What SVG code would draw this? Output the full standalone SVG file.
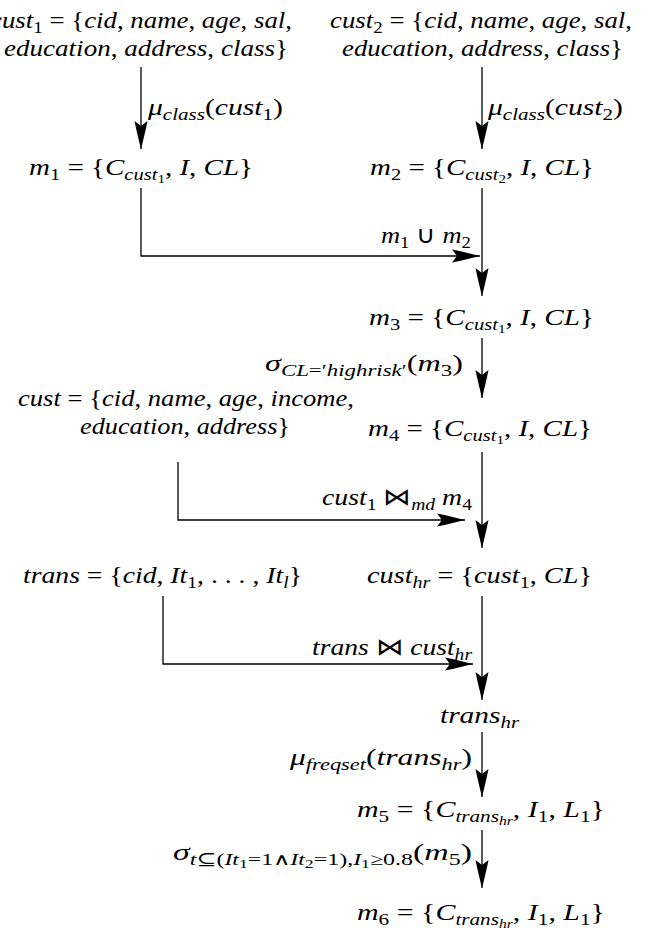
<svg xmlns="http://www.w3.org/2000/svg" width="647" height="934" viewBox="0 0 647 934">
<style>
text { font-family: "Liberation Serif", "DejaVu Serif", serif; font-style: italic; font-size: 24px; fill: #000; }
.u { font-style: normal; }
.s { font-size: 17px; baseline-shift: -4.5px; }
.ss { font-size: 12.5px; baseline-shift: -3px; }
.o { font-family: "DejaVu Sans", sans-serif; font-style: normal; font-weight: 200; }
.c { fill: none; stroke: #000; stroke-width: 1.3; marker-end: url(#ah); }
</style>
<defs>
<marker id="ah" markerUnits="userSpaceOnUse" orient="auto" viewBox="-30 -8 32 16" markerWidth="32" markerHeight="16" refX="0" refY="0">
<path d="M0,0 C-8,-2 -18,-4.5 -28,-6.5 L-23,0 L-28,6.5 C-18,4.5 -8,2 0,0 Z" fill="#000"/>
</marker>
</defs>
<rect width="647" height="934" fill="#fff"/>

<g id="connectors">
<path class="c" d="M141,67 V149"/>
<path class="c" d="M482,67 V149"/>
<path class="c" d="M141,188 V256 H480"/>
<path class="c" d="M482,188 V296"/>
<path class="c" d="M482,338 V398"/>
<path class="c" d="M178,462 V520 H465"/>
<path class="c" d="M482,452 V548"/>
<path class="c" d="M163,596 V664 H473"/>
<path class="c" d="M482,596 V700"/>
<path class="c" d="M482,732 V797"/>
<path class="c" d="M482,830 V888"/>
</g>

<g id="label-mu-class-1"><text x="148" y="115" textLength="135" lengthAdjust="spacingAndGlyphs">μ<tspan class="s">class</tspan><tspan class="u">(</tspan>cust<tspan class="s u">1</tspan><tspan class="u">)</tspan></text></g>
<g id="label-mu-class-2"><text x="488" y="115" textLength="135" lengthAdjust="spacingAndGlyphs">μ<tspan class="s">class</tspan><tspan class="u">(</tspan>cust<tspan class="s u">2</tspan><tspan class="u">)</tspan></text></g>
<g id="label-union"><text x="381" y="243" textLength="90" lengthAdjust="spacingAndGlyphs">m<tspan class="s u">1</tspan><tspan class="u"> </tspan><tspan class="o">∪</tspan><tspan class="u"> </tspan>m<tspan class="s u">2</tspan></text></g>
<g id="label-sigma-cl"><text x="265" y="371" textLength="198" lengthAdjust="spacingAndGlyphs">σ<tspan class="s">CL<tspan class="u">=′</tspan>highrisk<tspan class="u">′</tspan></tspan><tspan class="u">(</tspan>m<tspan class="s u">3</tspan><tspan class="u">)</tspan></text></g>
<g id="label-join-md"><text x="322" y="505" textLength="150" lengthAdjust="spacingAndGlyphs">cust<tspan class="s u">1</tspan><tspan class="u"> </tspan><tspan class="o">⋈</tspan><tspan class="s">md</tspan><tspan class="u"> </tspan>m<tspan class="s u">4</tspan></text></g>
<g id="label-join-trans"><text x="312" y="655" textLength="160" lengthAdjust="spacingAndGlyphs">trans<tspan class="u"> </tspan><tspan class="o">⋈</tspan><tspan class="u"> </tspan>cust<tspan class="s">hr</tspan></text></g>
<g id="label-mu-freqset"><text x="290" y="765" textLength="182" lengthAdjust="spacingAndGlyphs">μ<tspan class="s">freqset</tspan><tspan class="u">(</tspan>trans<tspan class="s">hr</tspan><tspan class="u">)</tspan></text></g>
<g id="label-sigma-t"><text x="173" y="860" textLength="299" lengthAdjust="spacingAndGlyphs">σ<tspan class="s">t<tspan class="u">⊆(</tspan>It<tspan class="ss u">1</tspan><tspan class="u">=1</tspan><tspan class="o">∧</tspan>It<tspan class="ss u">2</tspan><tspan class="u">=1),</tspan>I<tspan class="ss u">1</tspan><tspan class="u">≥0.8</tspan></tspan><tspan class="u">(</tspan>m<tspan class="s u">5</tspan><tspan class="u">)</tspan></text></g>

<g id="cust1">
<text x="-10" y="28" textLength="302" lengthAdjust="spacingAndGlyphs">cust<tspan class="s u">1</tspan><tspan class="u"> = {</tspan>cid<tspan class="u">, </tspan>name<tspan class="u">, </tspan>age<tspan class="u">, </tspan>sal<tspan class="u">,</tspan></text>
<text x="4" y="56" textLength="284" lengthAdjust="spacingAndGlyphs">education<tspan class="u">, </tspan>address<tspan class="u">, </tspan>class<tspan class="u">}</tspan></text>
</g>
<g id="cust2">
<text x="330" y="28" textLength="302" lengthAdjust="spacingAndGlyphs">cust<tspan class="s u">2</tspan><tspan class="u"> = {</tspan>cid<tspan class="u">, </tspan>name<tspan class="u">, </tspan>age<tspan class="u">, </tspan>sal<tspan class="u">,</tspan></text>
<text x="342" y="56" textLength="281" lengthAdjust="spacingAndGlyphs">education<tspan class="u">, </tspan>address<tspan class="u">, </tspan>class<tspan class="u">}</tspan></text>
</g>
<g id="m1"><text x="29" y="175" textLength="224" lengthAdjust="spacingAndGlyphs">m<tspan class="s u">1</tspan><tspan class="u"> = {</tspan>C<tspan class="s">cust<tspan class="ss u">1</tspan></tspan><tspan class="u">, </tspan>I<tspan class="u">, </tspan>CL<tspan class="u">}</tspan></text></g>
<g id="m2"><text x="370" y="175" textLength="224" lengthAdjust="spacingAndGlyphs">m<tspan class="s u">2</tspan><tspan class="u"> = {</tspan>C<tspan class="s">cust<tspan class="ss u">2</tspan></tspan><tspan class="u">, </tspan>I<tspan class="u">, </tspan>CL<tspan class="u">}</tspan></text></g>
<g id="m3"><text x="369" y="325" textLength="225" lengthAdjust="spacingAndGlyphs">m<tspan class="s u">3</tspan><tspan class="u"> = {</tspan>C<tspan class="s">cust<tspan class="ss u">1</tspan></tspan><tspan class="u">, </tspan>I<tspan class="u">, </tspan>CL<tspan class="u">}</tspan></text></g>
<g id="cust">
<text x="18" y="406" textLength="336" lengthAdjust="spacingAndGlyphs">cust<tspan class="u"> = {</tspan>cid<tspan class="u">, </tspan>name<tspan class="u">, </tspan>age<tspan class="u">, </tspan>income<tspan class="u">,</tspan></text>
<text x="80" y="434" textLength="210" lengthAdjust="spacingAndGlyphs">education<tspan class="u">, </tspan>address<tspan class="u">}</tspan></text>
</g>
<g id="m4"><text x="368" y="436" textLength="224" lengthAdjust="spacingAndGlyphs">m<tspan class="s u">4</tspan><tspan class="u"> = {</tspan>C<tspan class="s">cust<tspan class="ss u">1</tspan></tspan><tspan class="u">, </tspan>I<tspan class="u">, </tspan>CL<tspan class="u">}</tspan></text></g>
<g id="trans"><text x="23" y="583" textLength="279" lengthAdjust="spacingAndGlyphs">trans<tspan class="u"> = {</tspan>cid<tspan class="u">, </tspan>It<tspan class="s u">1</tspan><tspan class="u">, . . . , </tspan>It<tspan class="s">l</tspan><tspan class="u">}</tspan></text></g>
<g id="cust-hr"><text x="367" y="583" textLength="225" lengthAdjust="spacingAndGlyphs">cust<tspan class="s">hr</tspan><tspan class="u"> = {</tspan>cust<tspan class="s u">1</tspan><tspan class="u">, </tspan>CL<tspan class="u">}</tspan></text></g>
<g id="trans-hr"><text x="440" y="723" textLength="79" lengthAdjust="spacingAndGlyphs">trans<tspan class="s">hr</tspan></text></g>
<g id="m5"><text x="357" y="817" textLength="248" lengthAdjust="spacingAndGlyphs">m<tspan class="s u">5</tspan><tspan class="u"> = {</tspan>C<tspan class="s">trans<tspan class="ss">hr</tspan></tspan><tspan class="u">, </tspan>I<tspan class="s u">1</tspan><tspan class="u">, </tspan>L<tspan class="s u">1</tspan><tspan class="u">}</tspan></text></g>
<g id="m6"><text x="357" y="920" textLength="248" lengthAdjust="spacingAndGlyphs">m<tspan class="s u">6</tspan><tspan class="u"> = {</tspan>C<tspan class="s">trans<tspan class="ss">hr</tspan></tspan><tspan class="u">, </tspan>I<tspan class="s u">1</tspan><tspan class="u">, </tspan>L<tspan class="s u">1</tspan><tspan class="u">}</tspan></text></g>
</svg>
